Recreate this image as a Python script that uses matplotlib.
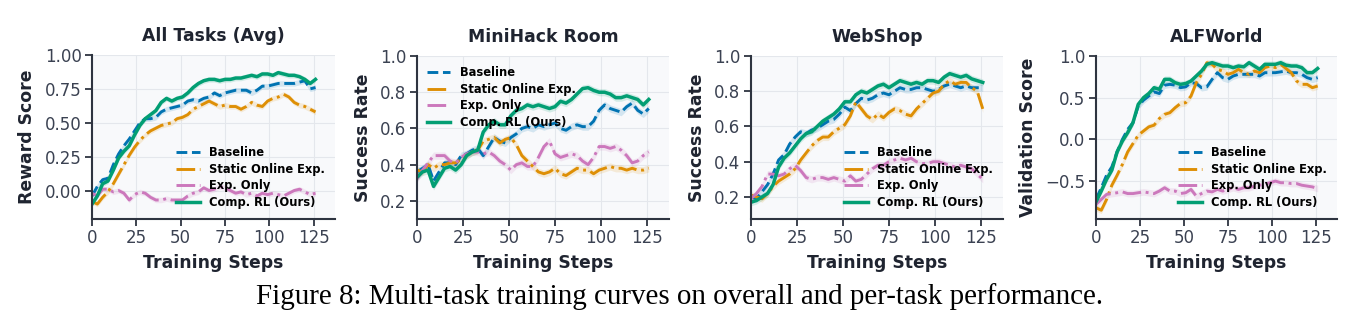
import numpy as np
import matplotlib
matplotlib.use('Agg')
import matplotlib.pyplot as plt

matplotlib.rcParams['font.family'] = 'DejaVu Sans'

steps = np.arange(0, 127, 3)

titles = ['All Tasks (Avg)', 'MiniHack Room', 'WebShop', 'ALFWorld']
ylabels = ['Reward Score', 'Success Rate', 'Success Rate', 'Validation Score']
labels = ['Baseline', 'Static Online Exp.', 'Exp. Only', 'Comp. RL (Ours)']

# All Tasks (Avg)
avg_base = [-0.04, 0.03, 0.08, 0.09, 0.19, 0.27, 0.33, 0.38, 0.44, 0.50, 0.53, 0.53, 0.54, 0.58, 0.60,
            0.61, 0.62, 0.63, 0.66, 0.67, 0.66, 0.68, 0.69, 0.72, 0.70, 0.72, 0.73, 0.74, 0.74, 0.74,
            0.72, 0.74, 0.77, 0.77, 0.78, 0.79, 0.79, 0.79, 0.79, 0.80, 0.81, 0.75, 0.76]
avg_static = [-0.08, -0.10, -0.05, -0.01, 0.05, 0.12, 0.19, 0.26, 0.32, 0.37, 0.41, 0.44, 0.46, 0.48, 0.49,
              0.50, 0.53, 0.54, 0.56, 0.60, 0.62, 0.64, 0.66, 0.64, 0.62, 0.63, 0.62, 0.62, 0.60, 0.62,
              0.65, 0.63, 0.62, 0.66, 0.68, 0.69, 0.71, 0.69, 0.65, 0.63, 0.62, 0.60, 0.58]
avg_exp = [-0.02, -0.04, 0.01, 0.01, -0.01, 0.00, -0.02, -0.07, -0.03, -0.01, -0.02, -0.05, -0.07, -0.07, -0.06,
           -0.07, -0.07, -0.07, -0.04, -0.02, -0.01, 0.02, 0.00, 0.01, 0.03, 0.02, 0.00, -0.02, -0.01, -0.03,
           -0.02, -0.04, -0.02, -0.03, -0.02, -0.03, -0.04, -0.02, 0.00, 0.01, -0.01, -0.03, -0.02]
avg_comp = [-0.10, -0.04, 0.05, 0.07, 0.15, 0.24, 0.29, 0.33, 0.41, 0.48, 0.53, 0.56, 0.59, 0.65, 0.68,
            0.66, 0.68, 0.69, 0.72, 0.76, 0.79, 0.81, 0.82, 0.82, 0.81, 0.82, 0.82, 0.83, 0.83, 0.84,
            0.85, 0.84, 0.86, 0.86, 0.85, 0.87, 0.86, 0.85, 0.85, 0.84, 0.82, 0.79, 0.82]

# MiniHack Room
mh_base = [0.36, 0.38, 0.40, 0.31, 0.36, 0.41, 0.41, 0.40, 0.45, 0.46, 0.48, 0.49, 0.45, 0.50, 0.55,
           0.53, 0.52, 0.55, 0.57, 0.60, 0.61, 0.60, 0.62, 0.61, 0.62, 0.63, 0.60, 0.59, 0.61, 0.62,
           0.61, 0.61, 0.64, 0.70, 0.73, 0.71, 0.70, 0.69, 0.72, 0.74, 0.70, 0.68, 0.71]
mh_static = [0.37, 0.36, 0.40, 0.38, 0.40, 0.40, 0.41, 0.41, 0.43, 0.45, 0.47, 0.48, 0.53, 0.54, 0.55,
             0.52, 0.54, 0.55, 0.51, 0.45, 0.42, 0.39, 0.36, 0.35, 0.36, 0.38, 0.35, 0.34, 0.36, 0.38,
             0.37, 0.37, 0.35, 0.37, 0.38, 0.39, 0.38, 0.38, 0.37, 0.38, 0.37, 0.37, 0.38]
mh_exp = [0.32, 0.37, 0.41, 0.45, 0.45, 0.45, 0.42, 0.41, 0.44, 0.46, 0.47, 0.47, 0.46, 0.47, 0.45,
          0.42, 0.40, 0.37, 0.40, 0.41, 0.39, 0.39, 0.44, 0.50, 0.53, 0.46, 0.44, 0.45, 0.46, 0.45,
          0.42, 0.40, 0.44, 0.50, 0.50, 0.49, 0.50, 0.48, 0.45, 0.41, 0.42, 0.45, 0.47]
mh_comp = [0.33, 0.36, 0.37, 0.28, 0.33, 0.38, 0.39, 0.37, 0.40, 0.45, 0.47, 0.48, 0.58, 0.62, 0.64,
           0.62, 0.62, 0.67, 0.70, 0.71, 0.73, 0.72, 0.73, 0.72, 0.71, 0.72, 0.75, 0.74, 0.76, 0.79,
           0.82, 0.825, 0.81, 0.80, 0.80, 0.79, 0.77, 0.77, 0.78, 0.77, 0.76, 0.73, 0.76]

# WebShop
ws_base = [0.20, 0.19, 0.23, 0.27, 0.33, 0.41, 0.44, 0.50, 0.54, 0.57, 0.56, 0.58, 0.59, 0.61, 0.63,
           0.64, 0.67, 0.71, 0.69, 0.73, 0.76, 0.75, 0.76, 0.78, 0.79, 0.78, 0.80, 0.82, 0.81, 0.81,
           0.82, 0.82, 0.81, 0.80, 0.81, 0.83, 0.84, 0.83, 0.82, 0.83, 0.82, 0.82, 0.82]
ws_static = [0.21, 0.20, 0.19, 0.22, 0.26, 0.29, 0.31, 0.33, 0.36, 0.41, 0.45, 0.49, 0.52, 0.54, 0.54,
             0.57, 0.59, 0.61, 0.66, 0.74, 0.70, 0.66, 0.64, 0.67, 0.65, 0.68, 0.70, 0.69, 0.67, 0.66,
             0.70, 0.73, 0.76, 0.79, 0.80, 0.84, 0.86, 0.84, 0.85, 0.85, 0.82, 0.80, 0.70]
ws_exp = [0.19, 0.22, 0.26, 0.33, 0.33, 0.32, 0.33, 0.36, 0.38, 0.35, 0.31, 0.30, 0.31, 0.31, 0.30,
          0.31, 0.30, 0.29, 0.32, 0.29, 0.30, 0.33, 0.36, 0.38, 0.38, 0.40, 0.41, 0.42, 0.41, 0.42,
          0.40, 0.39, 0.39, 0.40, 0.40, 0.39, 0.38, 0.37, 0.38, 0.37, 0.36, 0.33, 0.30]
ws_comp = [0.17, 0.18, 0.20, 0.22, 0.27, 0.37, 0.42, 0.45, 0.49, 0.53, 0.56, 0.57, 0.60, 0.63, 0.65,
           0.67, 0.70, 0.74, 0.74, 0.78, 0.80, 0.79, 0.81, 0.83, 0.84, 0.82, 0.84, 0.86, 0.85, 0.84,
           0.85, 0.84, 0.86, 0.86, 0.85, 0.88, 0.90, 0.89, 0.88, 0.89, 0.87, 0.86, 0.85]

# ALFWorld
alf_base = [-0.72, -0.58, -0.43, -0.33, -0.15, 0.00, 0.12, 0.20, 0.40, 0.47, 0.52, 0.57, 0.55, 0.65, 0.66,
            0.65, 0.62, 0.63, 0.68, 0.67, 0.62, 0.63, 0.72, 0.80, 0.74, 0.72, 0.76, 0.78, 0.78, 0.78,
            0.78, 0.76, 0.80, 0.80, 0.80, 0.81, 0.82, 0.80, 0.80, 0.78, 0.74, 0.72, 0.74]
alf_static = [-0.82, -0.85, -0.72, -0.55, -0.43, -0.30, -0.15, -0.05, 0.05, 0.10, 0.15, 0.17, 0.25, 0.30, 0.32,
              0.38, 0.43, 0.44, 0.52, 0.68, 0.78, 0.92, 0.90, 0.84, 0.82, 0.78, 0.80, 0.84, 0.80, 0.78,
              0.82, 0.80, 0.86, 0.88, 0.86, 0.90, 0.85, 0.80, 0.70, 0.66, 0.66, 0.62, 0.64]
alf_exp = [-0.78, -0.72, -0.66, -0.65, -0.64, -0.63, -0.65, -0.65, -0.64, -0.63, -0.64, -0.65, -0.62, -0.58, -0.62,
           -0.62, -0.65, -0.64, -0.60, -0.68, -0.65, -0.62, -0.63, -0.60, -0.62, -0.60, -0.58, -0.60, -0.58, -0.58,
           -0.56, -0.55, -0.54, -0.52, -0.50, -0.52, -0.52, -0.53, -0.53, -0.55, -0.56, -0.57, -0.59]
alf_comp = [-0.75, -0.62, -0.48, -0.37, -0.15, -0.02, 0.08, 0.20, 0.42, 0.50, 0.55, 0.62, 0.60, 0.72, 0.72,
            0.68, 0.66, 0.67, 0.70, 0.76, 0.82, 0.90, 0.92, 0.90, 0.88, 0.88, 0.86, 0.88, 0.87, 0.92,
            0.88, 0.84, 0.90, 0.90, 0.90, 0.92, 0.89, 0.88, 0.88, 0.86, 0.80, 0.80, 0.85]

series = [
    [avg_base, avg_static, avg_exp, avg_comp],
    [mh_base, mh_static, mh_exp, mh_comp],
    [ws_base, ws_static, ws_exp, ws_comp],
    [alf_base, alf_static, alf_exp, alf_comp],
]

colors = ['#0173b2', '#de8f05', '#cc78bc', '#029e73']
styles = ['--', '-.', '-.', '-']
widths = [2.1, 2.1, 2.1, 2.5]

# axes boxes in pixels: left, right, top, bottom
W, H = 1359, 330
boxes = [(92, 335, 55, 219), (417, 669, 56, 219), (751, 1003, 56, 219), (1096, 1337, 56, 219)]
ylims = [(-0.21, 1.0), (0.1, 1.0), (0.075, 1.0), (-0.955, 1.0)]
yticks = [[0.0, 0.25, 0.5, 0.75, 1.0], [0.2, 0.4, 0.6, 0.8, 1.0], [0.2, 0.4, 0.6, 0.8, 1.0], [-0.5, 0.0, 0.5, 1.0]]
band = [0.02, 0.02, 0.02, 0.04]
legend_loc = ['lower right', 'upper left', 'lower right', 'lower right']

dark = '#1f2430'
spine_c = '#2e3440'
tick_c = '#3b4252'

fig = plt.figure(figsize=(W / 100, H / 100), dpi=100)
fig.patch.set_facecolor('white')

for k in range(4):
    l, r, t, b = boxes[k]
    ax = fig.add_axes([l / W, 1 - b / H, (r - l) / W, (b - t) / H])
    ax.set_facecolor('#f8f9fb')
    for i in range(4):
        y = np.array(series[k][i])
        ax.fill_between(steps, y - band[k], y + band[k], color=colors[i], alpha=0.15, lw=0)
        ax.plot(steps, y, styles[i], color=colors[i], lw=widths[i], label=labels[i])
    ax.set_xlim(0, 137)
    ax.set_ylim(*ylims[k])
    ax.set_xticks([0, 25, 50, 75, 100, 125])
    ax.set_yticks(yticks[k])
    ax.grid(True, color='#e4e7ec', lw=0.8)
    ax.set_axisbelow(True)
    for s in ['top', 'right']:
        ax.spines[s].set_visible(False)
    for s in ['left', 'bottom']:
        ax.spines[s].set_color(spine_c)
        ax.spines[s].set_linewidth(1.5)
    ax.tick_params(colors=spine_c, labelcolor=tick_c, labelsize=12, length=5, width=1.3, pad=2.5)
    ax.set_title(titles[k], fontsize=12.4, fontweight='bold', color=dark, pad=10)
    ax.set_xlabel('Training Steps', fontsize=12.4, fontweight='bold', color=dark, labelpad=5)
    ax.set_ylabel(ylabels[k], fontsize=12.4, fontweight='bold', color=dark, labelpad=6)
    leg = ax.legend(loc=legend_loc[k], frameon=False, prop={'size': 8.3, 'weight': 'bold'},
                    labelspacing=0.3, handlelength=2.0, handletextpad=0.8)

fig.text(0.5, 1 - 297 / H, 'Figure 8: Multi-task training curves on overall and per-task performance.',
         ha='center', va='center', fontsize=20.9, family='Liberation Serif', color='black')

fig.savefig('out.png', dpi=100)
